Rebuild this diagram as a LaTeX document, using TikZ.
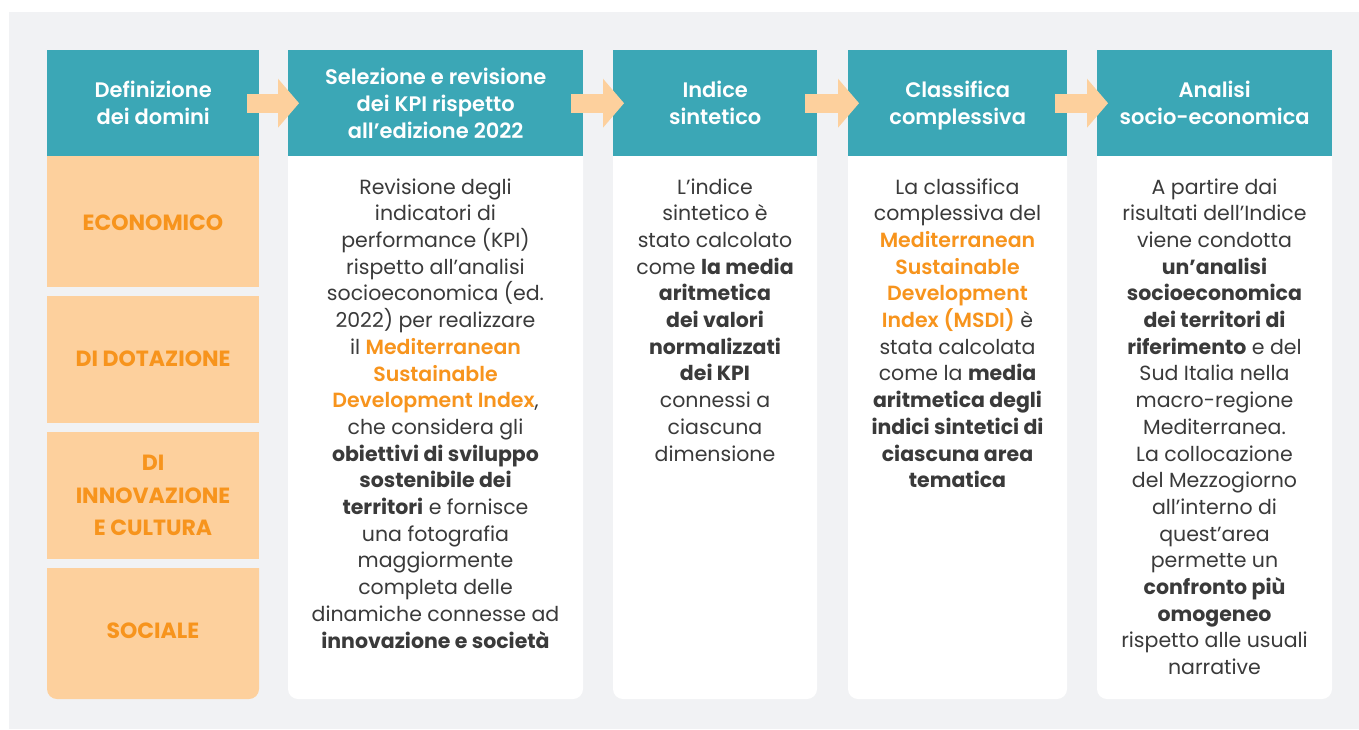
\documentclass[tikz,border=0pt]{standalone}
\usepackage{fontspec}
\setmainfont{Poppins}
\newfontfamily\semibold{Poppins SemiBold}
\usetikzlibrary{arrows.meta,calc}

\definecolor{tealc}{RGB}{59,167,182}
\definecolor{peach}{RGB}{253,208,157}
\definecolor{bggray}{RGB}{241,242,244}
\definecolor{darktxt}{RGB}{58,58,58}
\definecolor{orangetxt}{RGB}{247,148,29}

\newcommand{\hl}[1]{\textcolor{orangetxt}{\semibold #1}}
\newcommand{\bd}[1]{{\bfseries #1}}

\tikzset{
	head/.style={fill=tealc,text=white,inner sep=0,minimum width=#1,minimum height=106,text depth=0pt,
		anchor=north west,align=center,font=\fontsize{21}{27}\selectfont\semibold},
	domlabel/.style={text=orangetxt,inner sep=0,align=center,font=\fontsize{22}{32.5}\selectfont\bfseries},
	bodytxt/.style={text=darktxt,inner sep=0,anchor=base,align=center,font=\fontsize{20.5}{26.7}\selectfont},
	flow/.style={draw=peach,line width=19,-{Triangle[length=21pt,width=49pt,line width=0pt]}}
}

\begin{document}
\begin{tikzpicture}[x=1pt,y=-1pt]
	\useasboundingbox[fill=white] (0,0) rectangle (1359,729);
	\fill[bggray] (9,12) rectangle (1359,729);

	% headers
	\node[head=212] (h1) at (47,50) {Definizione\\dei domini};
	\node[head=295] (h2) at (288,50) {Selezione e revisione\\dei KPI rispetto\\all’edizione 2022};
	\node[head=204] (h3) at (613,50) {Indice\\sintetico};
	\node[head=219] (h4) at (848,50) {Classifica\\complessiva};
	\node[head=235] (h5) at (1097,50) {Analisi\\socio-economica};

	% domains
	\fill[peach] (47,156) rectangle (259,287);
	\fill[peach] (47,296) rectangle (259,423);
	\fill[peach] (47,432) rectangle (259,559);
	\fill[peach,rounded corners=10] (47,568) -- (47,699) -- (259,699) -- (259,568);
	\node[domlabel] (d1) at (153,223) {ECONOMICO};
	\node[domlabel] (d2) at (153,359) {DI DOTAZIONE};
	\node[domlabel] (d3) at (153,495.5) {DI\\INNOVAZIONE\\E CULTURA};
	\node[domlabel] (d4) at (153,631) {SOCIALE};

	% white bodies
	\fill[white,rounded corners=10] (288,156) -- (288,699) -- (583,699) -- (583,156);
	\fill[white,rounded corners=10] (613,156) -- (613,699) -- (817,699) -- (817,156);
	\fill[white,rounded corners=10] (848,156) -- (848,699) -- (1067,699) -- (1067,156);
	\fill[white,rounded corners=10] (1097,156) -- (1097,699) -- (1332,699) -- (1332,156);

	% texts, anchored at the baseline of their last line
	\node[bodytxt] (t2) at (435.5,648) {Revisione degli\\indicatori di\\performance (KPI)\\rispetto all’analisi\\socioeconomica (ed.\\2022) per realizzare\\il \hl{Mediterranean}\\\hl{Sustainable}\\\hl{Development Index},\\che considera gli\\\bd{obiettivi di sviluppo}\\\bd{sostenibile dei}\\\bd{territori} e fornisce\\una fotografia\\maggiormente\\completa delle\\dinamiche connesse ad\\\bd{innovazione e società}};
	\node[bodytxt] (t3) at (715,461) {L’indice\\sintetico è\\stato calcolato\\come \bd{la media}\\\bd{aritmetica}\\\bd{dei valori}\\\bd{normalizzati}\\\bd{dei KPI}\\connessi a\\ciascuna\\dimensione};
	\node[bodytxt] (t4) at (957.5,487.7) {La classifica\\complessiva del\\\hl{Mediterranean}\\\hl{Sustainable}\\\hl{Development}\\\hl{Index (MSDI)} è\\stata calcolata\\come la \bd{media}\\\bd{aritmetica degli}\\\bd{indici sintetici di}\\\bd{ciascuna area}\\\bd{tematica}};
	\node[bodytxt] (t5) at (1214.5,674.6) {A partire dai\\risultati dell’Indice\\viene condotta\\\bd{un’analisi}\\\bd{socioeconomica}\\\bd{dei territori di}\\\bd{riferimento} e del\\Sud Italia nella\\macro-regione\\Mediterranea.\\La collocazione\\del Mezzogiorno\\all’interno di\\quest’area\\permette un\\\bd{confronto più}\\\bd{omogeneo}\\rispetto alle usuali\\narrative};

	% arrows
	\draw[flow] ($(h1.east)+(-12,0)$) -- ($(h2.west)+(11,0)$);
	\draw[flow] ($(h2.east)+(-12,0)$) -- ($(h3.west)+(11,0)$);
	\draw[flow] ($(h3.east)+(-12,0)$) -- ($(h4.west)+(11,0)$);
	\draw[flow] ($(h4.east)+(-12,0)$) -- ($(h5.west)+(11,0)$);
\end{tikzpicture}
\end{document}
